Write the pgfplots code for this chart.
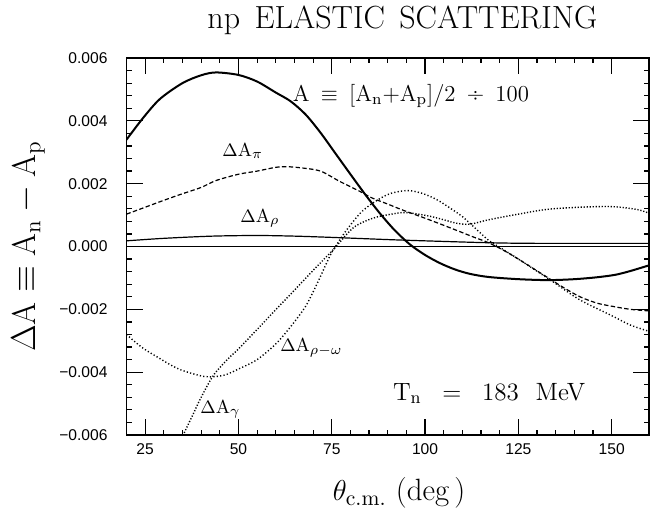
\documentclass[border=0pt]{standalone}
\usepackage{fontspec}
\usepackage{pgfplots}
\pgfplotsset{compat=1.18}
\newfontfamily\helv{Liberation Sans}

\begin{document}
\begin{tikzpicture}
\useasboundingbox (-63.25pt,-40.5pt) rectangle (262.25pt,217.5pt);
\begin{axis}[
  at={(0,0)}, anchor=south west, scale only axis,
  width=261.25pt, height=188.5pt,
  xmin=20, xmax=160, ymin=-0.006, ymax=0.006,
  xtick={25,50,75,100,125,150}, xticklabels={25,50,75,100,125,150},
  ytick={-0.006,-0.004,-0.002,0,0.002,0.004,0.006},
  yticklabels={−0.006,−0.004,−0.002,0.000,0.002,0.004,0.006},
  minor x tick num=4, minor y tick num=4,
  tick align=inside, tick pos=both,
  major tick length=8pt, minor tick length=2.6pt,
  scaled y ticks=false, scaled x ticks=false,
  tick label style={font=\helv\fontsize{7.8}{9}\selectfont},
  yticklabel style={xshift=-6pt},
  xticklabel style={yshift=-1pt},
  clip mode=individual,
  axis line style={line width=0.8pt},
  every tick/.style={black, line width=0.6pt},
]
% zero line
\addplot[black, line width=0.7pt] coordinates {(20,0) (160,0)};

% A (sum / 100)
\addplot[black, line width=1pt, smooth] coordinates {
(20,0.0034) (24.5,0.0041) (29,0.0047) (35,0.0052) (40,0.00545) (44,0.00554)
(50,0.00546) (55,0.00525) (60,0.0049) (64,0.00462) (68,0.0042) (72,0.00362)
(76,0.00296) (80,0.0023) (84,0.00165) (88,0.00104) (92,0.0005) (96,0.00006)
(100,-0.00027) (104,-0.00053) (108,-0.00073) (112,-0.00087) (117,-0.00097)
(125,-0.00104) (133,-0.00107) (140,-0.00104) (146,-0.00098) (151,-0.0009)
(155,-0.00078) (160,-0.0006)};

% Delta A_pi (dashed)
\addplot[black, line width=0.6pt, smooth, dash pattern=on 2.2pt off 1.2pt] coordinates {
(20,0.00103) (25,0.00125) (30,0.00147) (35,0.00168) (40,0.00188) (44,0.0021)
(50,0.0023) (55,0.0024) (60,0.00252) (63,0.00254) (67,0.0025) (72,0.0024)
(77,0.00208) (82.6,0.00175) (85.7,0.00155) (90,0.00135) (94,0.00116)
(100,0.0009) (104,0.00072) (109.4,0.00047) (113,0.0003) (117,0.00012)
(121,-0.00012) (125,-0.0004) (129,-0.0007) (133,-0.001) (137,-0.0013)
(141.5,-0.0016) (146,-0.0018) (150,-0.0019) (155,-0.002) (160,-0.00205)};

% Delta A_rho (solid thin)
\addplot[black, line width=0.6pt, smooth] coordinates {
(20,0.00018) (30,0.00026) (43,0.00033) (55,0.00035) (65,0.00033) (75,0.00029)
(90,0.00022) (100,0.00018) (117,0.00012) (130,0.0001) (160,0.0001)};

% Delta A_rho-omega (dotted)
\addplot[black, line width=0.7pt, smooth, dash pattern=on 0.6pt off 1.1pt] coordinates {
(20,-0.0028) (24,-0.0032) (28,-0.0035) (34,-0.0039) (41,-0.00414) (46,-0.0041)
(50,-0.0039) (55,-0.0036) (60,-0.0031) (64,-0.00255) (68,-0.0019) (71,-0.0012)
(74.5,-0.0003) (76,0.0000) (79,0.00053) (83.5,0.00116) (89.7,0.00164)
(95,0.00178) (99,0.0017) (103,0.0015) (107,0.0012) (110,0.00095) (113,0.00063)
(117,0.0002) (121,-0.0001) (125,-0.0004) (134,-0.0011) (141.5,-0.0017)
(150,-0.0022) (155,-0.0025) (160,-0.0027)};

% Delta A_gamma (dotted)
\addplot[black, line width=0.7pt, smooth, dash pattern=on 0.6pt off 0.9pt] coordinates {
(34.6,-0.0062) (35.2,-0.006) (38,-0.0053) (40,-0.0048) (43.3,-0.0041) (47,-0.0036)
(50,-0.00326) (55,-0.00264) (60,-0.00201) (65,-0.00139) (70,-0.00076)
(75.4,-0.0001) (80.8,0.0006) (86,0.0009) (91,0.00103) (95,0.00108)
(101,0.00097) (105,0.00085) (108.5,0.00074) (112,0.00071) (117,0.00085)
(123.6,0.001) (132.6,0.00118) (141.5,0.00125) (150,0.00127) (156.7,0.00118)
(160,0.00106)};

% annotations
\node[anchor=base west, inner sep=0, font=\fontsize{9.5}{11}\selectfont] at (axis cs:45.6,0.00286) {$\Delta\mathrm{A}_{\pi}$};
\node[anchor=base west, inner sep=0, font=\fontsize{9.5}{11}\selectfont] at (axis cs:50.4,0.00076) {$\Delta\mathrm{A}_{\rho}$};
\node[anchor=base west, inner sep=0, font=\fontsize{9.5}{11}\selectfont] at (axis cs:61.1,-0.00335) {$\Delta\mathrm{A}_{\rho-\omega}$};
\node[anchor=base west, inner sep=0, font=\fontsize{9.5}{11}\selectfont] at (axis cs:39.7,-0.00533) {$\Delta\mathrm{A}_{\gamma}$};
\node[anchor=base west, inner sep=0, font=\fontsize{11.4}{13}\selectfont\addfontfeatures{LetterSpace=16}] at (axis cs:64.5,0.00461) {A\, $\equiv$\, [A\textsubscript{n}+A\textsubscript{p}]/2\, ÷\, 100};
\node[anchor=base west, inner sep=0, font=\fontsize{12.5}{14}\selectfont\addfontfeatures{LetterSpace=14}] at (axis cs:91.3,-0.00489) {T\textsubscript{n}\hspace{0.5em} =\hspace{0.5em} 183\hspace{0.35em} MeV};

% title and axis labels
\node[anchor=base, inner sep=0, font=\fontsize{16}{18}\selectfont\addfontfeatures{LetterSpace=19}] at (axis description cs:0.528,1.0788) {np\hspace{0.15em} ELASTIC\hspace{0.15em} SCATTERING};
\node[anchor=base, inner sep=0, font=\fontsize{15.4}{17}\selectfont] at (axis description cs:0.5215,-0.175) {$\theta_{\mathrm{c.m.}}$ (deg\,)};
\node[rotate=90, inner sep=0, font=\fontsize{16.5}{18}\selectfont] at (axis description cs:-0.188,0.5) {$\Delta\mathrm{A} \equiv \mathrm{A}_{\mathrm{n}} - \mathrm{A}_{\mathrm{p}}$};
\end{axis}
\end{tikzpicture}
\end{document}
